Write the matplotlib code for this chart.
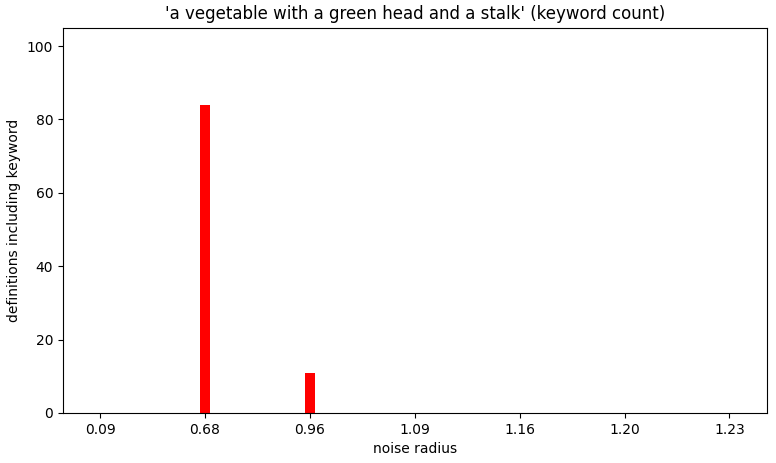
import matplotlib
matplotlib.use("Agg")
import matplotlib.pyplot as plt
import numpy as np

radii = ["0.09", "0.68", "0.96", "1.09", "1.16", "1.20", "1.23"]
counts = [0, 84, 11, 0, 0, 0, 0]

fig, ax = plt.subplots(figsize=(7.76, 4.63), dpi=100)
x = np.arange(len(radii))
ax.bar(x, counts, width=0.1, color="red")
ax.set_xticks(x)
ax.set_xticklabels(radii)
ax.set_ylim(0, 105)
ax.set_xlabel("noise radius")
ax.set_ylabel("definitions including keyword")
ax.set_title("'a vegetable with a green head and a stalk' (keyword count)")
fig.subplots_adjust(left=0.081, right=0.988, top=0.94, bottom=0.108)
fig.savefig("out.png", dpi=100)
